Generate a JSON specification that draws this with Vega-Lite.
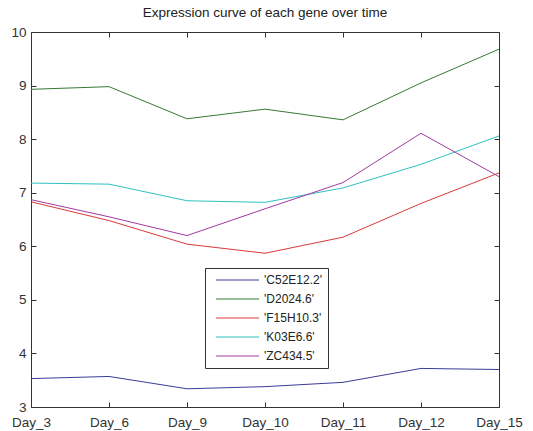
{
  "$schema": "https://vega.github.io/schema/vega-lite/v6.json",
  "autosize": "none",
  "width": 468,
  "height": 375,
  "padding": {"left": 31, "top": 32, "right": 34, "bottom": 24},
  "background": "white",
  "title": {"text": "Expression curve of each gene over time", "font": "Liberation Sans", "fontSize": 13.5, "fontWeight": "normal", "color": "#222", "offset": 6},
  "config": {
    "view": {"stroke": "#333", "strokeWidth": 1},
    "axis": {"labelFont": "Liberation Sans", "labelFontSize": 13.5, "labelColor": "#333", "domainColor": "#333", "tickColor": "#333", "grid": false, "title": null}
  },
  "data": {"values": [
    {"day": "Day_3", "gene": "'C52E12.2'", "v": 3.53},
    {"day": "Day_6", "gene": "'C52E12.2'", "v": 3.57},
    {"day": "Day_9", "gene": "'C52E12.2'", "v": 3.34},
    {"day": "Day_10", "gene": "'C52E12.2'", "v": 3.38},
    {"day": "Day_11", "gene": "'C52E12.2'", "v": 3.46},
    {"day": "Day_12", "gene": "'C52E12.2'", "v": 3.72},
    {"day": "Day_15", "gene": "'C52E12.2'", "v": 3.70},
    {"day": "Day_3", "gene": "'D2024.6'", "v": 8.93},
    {"day": "Day_6", "gene": "'D2024.6'", "v": 8.98},
    {"day": "Day_9", "gene": "'D2024.6'", "v": 8.38},
    {"day": "Day_10", "gene": "'D2024.6'", "v": 8.56},
    {"day": "Day_11", "gene": "'D2024.6'", "v": 8.36},
    {"day": "Day_12", "gene": "'D2024.6'", "v": 9.05},
    {"day": "Day_15", "gene": "'D2024.6'", "v": 9.68},
    {"day": "Day_3", "gene": "'F15H10.3'", "v": 6.83},
    {"day": "Day_6", "gene": "'F15H10.3'", "v": 6.48},
    {"day": "Day_9", "gene": "'F15H10.3'", "v": 6.04},
    {"day": "Day_10", "gene": "'F15H10.3'", "v": 5.87},
    {"day": "Day_11", "gene": "'F15H10.3'", "v": 6.17},
    {"day": "Day_12", "gene": "'F15H10.3'", "v": 6.80},
    {"day": "Day_15", "gene": "'F15H10.3'", "v": 7.37},
    {"day": "Day_3", "gene": "'K03E6.6'", "v": 7.18},
    {"day": "Day_6", "gene": "'K03E6.6'", "v": 7.16},
    {"day": "Day_9", "gene": "'K03E6.6'", "v": 6.85},
    {"day": "Day_10", "gene": "'K03E6.6'", "v": 6.82},
    {"day": "Day_11", "gene": "'K03E6.6'", "v": 7.09},
    {"day": "Day_12", "gene": "'K03E6.6'", "v": 7.53},
    {"day": "Day_15", "gene": "'K03E6.6'", "v": 8.06},
    {"day": "Day_3", "gene": "'ZC434.5'", "v": 6.87},
    {"day": "Day_6", "gene": "'ZC434.5'", "v": 6.55},
    {"day": "Day_9", "gene": "'ZC434.5'", "v": 6.20},
    {"day": "Day_10", "gene": "'ZC434.5'", "v": 6.70},
    {"day": "Day_11", "gene": "'ZC434.5'", "v": 7.19},
    {"day": "Day_12", "gene": "'ZC434.5'", "v": 8.11},
    {"day": "Day_15", "gene": "'ZC434.5'", "v": 7.30}
  ]},
  "resolve": {"axis": {"x": "independent", "y": "independent"}},
  "layer": [
    {
      "mark": {"type": "line", "strokeWidth": 1},
      "encoding": {
        "x": {"field": "day", "type": "ordinal", "sort": ["Day_3","Day_6","Day_9","Day_10","Day_11","Day_12","Day_15"], "scale": {"type": "point", "padding": 0},
              "axis": {"orient": "bottom", "labelAngle": 0, "tickSize": -5, "labelPadding": 13, "domain": false}},
        "y": {"field": "v", "type": "quantitative", "scale": {"domain": [3, 10], "nice": false, "zero": false},
              "axis": {"orient": "left", "values": [3,4,5,6,7,8,9,10], "tickSize": -5, "labelPadding": 10, "domain": false}},
        "color": {"field": "gene", "type": "nominal",
                  "scale": {"domain": ["'C52E12.2'","'D2024.6'","'F15H10.3'","'K03E6.6'","'ZC434.5'"], "range": ["#3c3c96","#357a35","#d83a3a","#2fc0c0","#a03aa0"]},
                  "legend": {"orient": "none", "legendX": 174, "legendY": 236, "title": null, "symbolType": "M-0.2,0H8.4", "symbolSize": 100, "symbolStrokeWidth": 1,
                             "labelFont": "Liberation Sans", "labelFontSize": 12, "labelColor": "#222", "rowPadding": 7, "padding": 6,
                             "strokeColor": "#333", "fillColor": "white", "cornerRadius": 0, "labelOffset": 41}}
      }
    },
    {
      "mark": {"type": "line", "opacity": 0},
      "encoding": {
        "x": {"field": "day", "type": "ordinal", "sort": ["Day_3","Day_6","Day_9","Day_10","Day_11","Day_12","Day_15"], "scale": {"type": "point", "padding": 0},
              "axis": {"orient": "top", "labels": false, "tickSize": -5, "domain": false}},
        "y": {"field": "v", "type": "quantitative", "scale": {"domain": [3, 10], "nice": false, "zero": false},
              "axis": {"orient": "right", "labels": false, "values": [3,4,5,6,7,8,9,10], "tickSize": -5, "domain": false}},
        "detail": {"field": "gene"}
      }
    }
  ]
}
